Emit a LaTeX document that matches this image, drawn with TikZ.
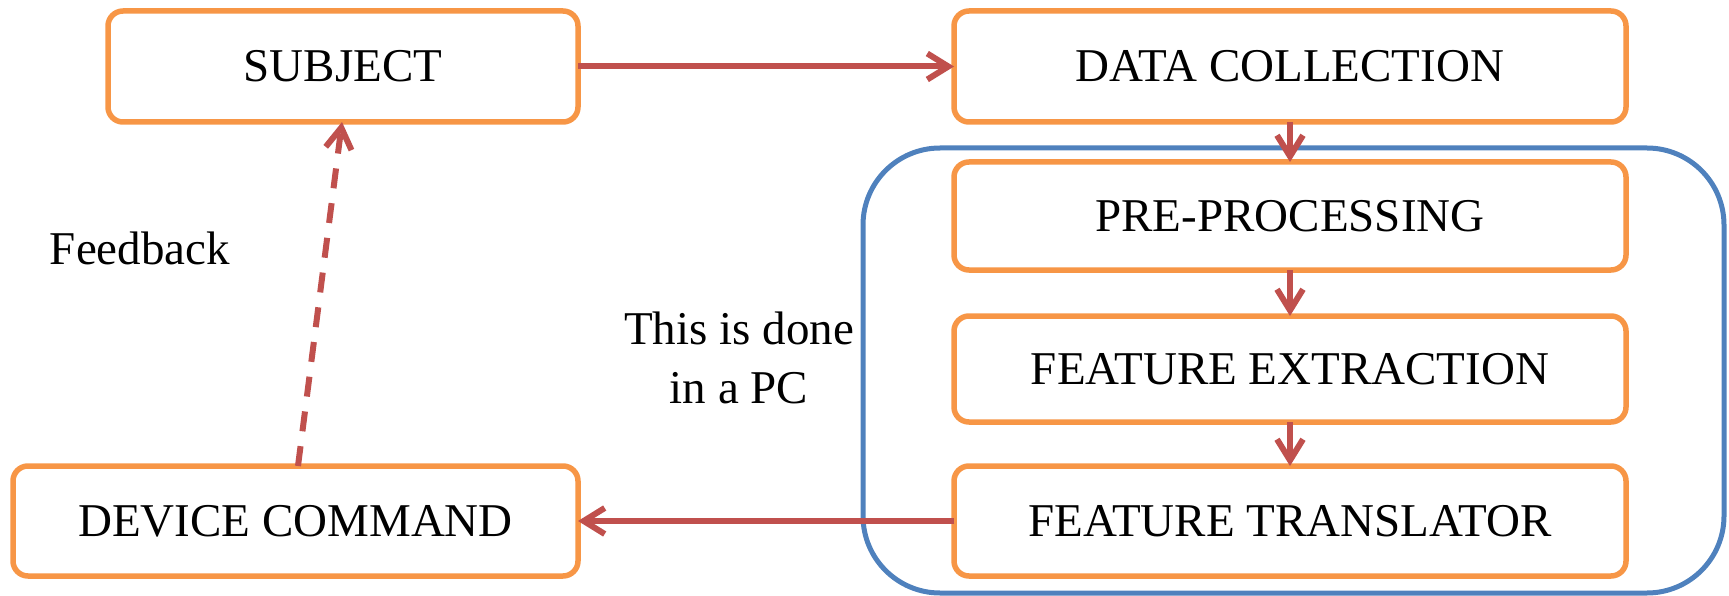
\documentclass[tikz,border=0pt]{standalone}
\usepackage{fontspec}
\setmainfont{Liberation Serif}
\usetikzlibrary{arrows.meta,calc}
\definecolor{boxorange}{HTML}{F79646}
\definecolor{arrred}{HTML}{C0504D}
\definecolor{pcblue}{HTML}{4F81BD}
\begin{document}
\begin{tikzpicture}[x=1pt,y=1pt,
  stagebox/.style={draw=boxorange, line width=5.5pt, fill=white, rounded corners=15pt,
    inner sep=0pt, outer sep=0pt, font=\fontsize{47}{56}\selectfont},
  flowarrow/.style={draw=arrred, line width=6pt,
    -{Straight Barb[length=21pt,width=26pt,line width=6pt]}},
  lbl/.style={font=\fontsize{47}{59}\selectfont, align=center, inner sep=0pt}]
\useasboundingbox (0,0) rectangle (1729,-596);
\node[draw=pcblue, line width=5pt, rounded corners=77pt, minimum width=861pt,
  minimum height=445pt, inner sep=0pt, outer sep=0pt] (pc) at (1293.5,-370.5) {};
\node[stagebox, minimum width=470pt, minimum height=111pt] (subj) at (343,-66.5) {SUBJECT};
\node[stagebox, minimum width=672pt, minimum height=111pt] (data) at (1290,-66.5) {DATA COLLECTION};
\node[stagebox, minimum width=672pt, minimum height=108pt] (pre) at (1290,-216) {PRE-PROCESSING};
\node[stagebox, minimum width=672pt, minimum height=106pt] (feat) at (1290,-369) {FEATURE EXTRACTION};
\node[stagebox, minimum width=672pt, minimum height=110pt] (trans) at (1290,-521) {FEATURE TRANSLATOR};
\node[stagebox, minimum width=565pt, minimum height=110pt] (dev) at (295.5,-521) {DEVICE COMMAND};
\node[lbl] (fb) at (140,-248) {Feedback};
\node[lbl] (pcl) at (739,-358) {This is done\\in a PC};
\draw[flowarrow] (subj.east) -- (data.west);
\draw[flowarrow] (data.south) -- (pre.north);
\draw[flowarrow] (pre.south) -- (feat.north);
\draw[flowarrow] (feat.south) -- (trans.north);
\draw[flowarrow] (trans.west) -- (dev.east);
\draw[flowarrow, dash pattern=on 20pt off 15pt]
  ($(dev.north)+(2.5,0)$) -- ($(subj.south)+(-1,0)$);
\end{tikzpicture}
\end{document}
